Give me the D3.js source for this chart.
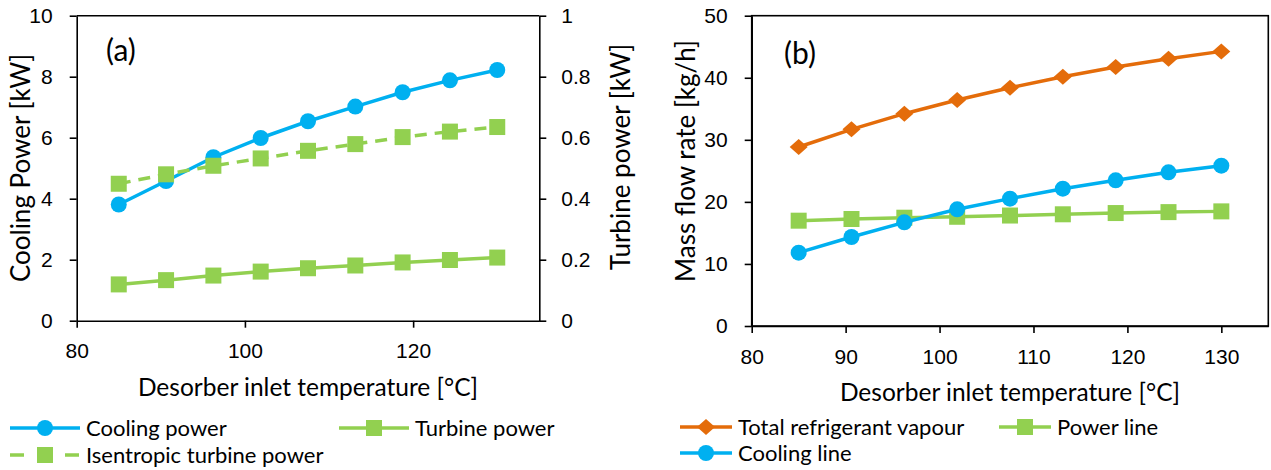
<!DOCTYPE html>
<html>
<head>
<meta charset="utf-8">
<script src="https://cdn.jsdelivr.net/npm/d3@7"></script>
<style>
  body { margin: 0; background: #fff; }
  svg { font-family: Lato, "Open Sans", sans-serif; }
  .tick text { font-size: 21px; fill: #000; }
  .axis-title { font-size: 24.5px; fill: #000; }
  .y-title { font-size: 26px; fill: #000; }
  .legend text { font-size: 22px; fill: #000; }
</style>
</head>
<body>
<svg id="chart" width="1271" height="470"></svg>
<script>
// desorber inlet temperatures (same for both panels)
const temps = [85, 90.625, 96.25, 101.875, 107.5, 113.125, 118.75, 124.375, 130];

// panel (a)
const coolingPower = [3.81, 4.58, 5.36, 5.99, 6.54, 7.02, 7.49, 7.88, 8.22];        // kW, left axis
const turbinePower = [0.119, 0.133, 0.148, 0.161, 0.172, 0.181, 0.191, 0.199, 0.207]; // kW, right axis
const isentropicPower = [0.449, 0.48, 0.508, 0.532, 0.557, 0.579, 0.602, 0.62, 0.635]; // kW, right axis

// panel (b)
const totalVapour = [28.84, 31.69, 34.21, 36.41, 38.4, 40.17, 41.73, 43.07, 44.25];
const powerLine = [16.97, 17.24, 17.45, 17.6, 17.8, 18.0, 18.2, 18.35, 18.47];
const coolingLine = [11.82, 14.34, 16.7, 18.8, 20.52, 22.13, 23.47, 24.76, 25.83];

// ticks
const aXTicks = [80, 100, 120];
const aLeftTicks = [0, 2, 4, 6, 8, 10];
const aRightTicks = [0, 0.2, 0.4, 0.6, 0.8, 1];
const bXTicks = [80, 90, 100, 110, 120, 130];
const bYTicks = [0, 10, 20, 30, 40, 50];

const BLUE = '#00B0F0', GREEN = '#92D050', ORANGE = '#E46C0A';

const svg = d3.select('#chart');

function styleAxis(g) {
  g.select('.domain').attr('stroke', '#000').attr('stroke-width', 1.6);
  g.selectAll('.tick line').attr('stroke', '#000').attr('stroke-width', 1.6);
  g.selectAll('.tick text').attr('font-family', null).attr('font-size', null);
}

// marker drawing
function drawMarker(g, shape, cx, cy, color) {
  if (shape === 'circle') {
    g.append('circle').attr('cx', cx).attr('cy', cy).attr('r', 8).attr('fill', color);
  } else if (shape === 'square') {
    g.append('rect').attr('x', cx - 8).attr('y', cy - 8).attr('width', 16).attr('height', 16).attr('fill', color);
  } else {
    g.append('path').attr('d', `M${cx},${cy - 8}L${cx + 9},${cy}L${cx},${cy + 8}L${cx - 9},${cy}Z`).attr('fill', color);
  }
}

function addSeries(g, xScale, yScale, values, color, shape, dash) {
  const pts = temps.map((t, i) => [xScale(t), yScale(values[i])]);
  g.append('path')
    .attr('d', d3.line()(pts))
    .attr('fill', 'none')
    .attr('stroke', color)
    .attr('stroke-width', 3.5)
    .attr('stroke-dasharray', dash || null);
  pts.forEach(p => drawMarker(g, shape, p[0], p[1], color));
}

// ---------- panel (a) ----------
const A = { left: 76.7, right: 539.3, top: 15.7, bottom: 320.7 };
const ax = d3.scaleLinear().domain([80, 135]).range([A.left, A.right]);
const ayL = d3.scaleLinear().domain([0, 10]).range([A.bottom, A.top]);
const ayR = d3.scaleLinear().domain([0, 1]).range([A.bottom, A.top]);

const gA = svg.append('g');
gA.append('line').attr('x1', A.left).attr('x2', A.right).attr('y1', A.top).attr('y2', A.top)
  .attr('stroke', '#000').attr('stroke-width', 1.6);

gA.append('g').attr('transform', `translate(0,${A.bottom})`)
  .call(d3.axisBottom(ax).tickValues(aXTicks).tickSize(7).tickPadding(15).tickSizeOuter(0))
  .call(styleAxis);
gA.append('g').attr('transform', `translate(${A.left},0)`)
  .call(d3.axisLeft(ayL).tickValues(aLeftTicks).tickSize(7).tickPadding(17).tickSizeOuter(0))
  .call(styleAxis);
gA.append('g').attr('transform', `translate(${A.right},0)`)
  .call(d3.axisRight(ayR).tickValues(aRightTicks).tickFormat(d3.format('~g')).tickSize(7).tickPadding(15).tickSizeOuter(0))
  .call(styleAxis);

addSeries(gA, ax, ayL, coolingPower, BLUE, 'circle');
addSeries(gA, ax, ayR, turbinePower, GREEN, 'square');
addSeries(gA, ax, ayR, isentropicPower, GREEN, 'square', '12,8');

gA.append('text').attr('x', 106).attr('y', 61).style('font-size', '30px').text('(a)');
gA.append('text').attr('class', 'axis-title').attr('x', (A.left + A.right) / 2).attr('y', 396)
  .attr('text-anchor', 'middle').text('Desorber inlet temperature [°C]');
gA.append('text').attr('class', 'y-title').attr('text-anchor', 'middle')
  .attr('transform', 'translate(21,168) rotate(-90)').attr('dy', '0.35em').text('Cooling Power [kW]');
gA.append('text').attr('class', 'y-title').attr('text-anchor', 'middle')
  .attr('transform', 'translate(621,157) rotate(-90)').attr('dy', '0.35em').text('Turbine power [kW]');

// ---------- panel (b) ----------
const B = { left: 751.7, right: 1268.3, top: 15.7, bottom: 326 };
const bx = d3.scaleLinear().domain([80, 135]).range([B.left, B.right]);
const by = d3.scaleLinear().domain([0, 50]).range([B.bottom, B.top]);

const gB = svg.append('g');
gB.append('rect').attr('x', B.left).attr('y', B.top)
  .attr('width', B.right - B.left).attr('height', B.bottom - B.top)
  .attr('fill', 'none').attr('stroke', '#000').attr('stroke-width', 1.6);

gB.append('g').attr('transform', `translate(0,${B.bottom})`)
  .call(d3.axisBottom(bx).tickValues(bXTicks).tickSize(7).tickPadding(16).tickSizeOuter(0))
  .call(styleAxis);
gB.append('g').attr('transform', `translate(${B.left},0)`)
  .call(d3.axisLeft(by).tickValues(bYTicks).tickSize(7).tickPadding(17).tickSizeOuter(0))
  .call(styleAxis);

addSeries(gB, bx, by, totalVapour, ORANGE, 'diamond');
addSeries(gB, bx, by, powerLine, GREEN, 'square');
addSeries(gB, bx, by, coolingLine, BLUE, 'circle');

gB.append('text').attr('x', 784).attr('y', 64).style('font-size', '30px').text('(b)');
gB.append('text').attr('class', 'axis-title').attr('x', (B.left + B.right) / 2).attr('y', 401)
  .attr('text-anchor', 'middle').text('Desorber inlet temperature [°C]');
gB.append('text').attr('class', 'y-title').attr('text-anchor', 'middle')
  .attr('transform', 'translate(686,161) rotate(-90)').attr('dy', '0.35em').text('Mass flow rate [kg/h]');

// ---------- legends ----------
const legendA = [
  { label: 'Cooling power', color: BLUE, shape: 'circle', x: 10, y: 428 },
  { label: 'Turbine power', color: GREEN, shape: 'square', x: 339, y: 428 },
  { label: 'Isentropic turbine power', color: GREEN, shape: 'square', x: 10, y: 455, dash: '14,41' }
];
const legendB = [
  { label: 'Total refrigerant vapour', color: ORANGE, shape: 'diamond', x: 680, y: 427, w: 52 },
  { label: 'Power line', color: GREEN, shape: 'square', x: 999, y: 427, w: 52 },
  { label: 'Cooling line', color: BLUE, shape: 'circle', x: 680, y: 453, w: 52 }
];

const leg = svg.append('g').attr('class', 'legend');
legendA.concat(legendB).forEach(d => {
  const w = d.w || 70;
  leg.append('line').attr('x1', d.x).attr('x2', d.x + w).attr('y1', d.y).attr('y2', d.y)
    .attr('stroke', d.color).attr('stroke-width', 3.5).attr('stroke-dasharray', d.dash || null);
  drawMarker(leg, d.shape, d.x + w / 2, d.y, d.color);
  leg.append('text').attr('x', d.x + w + 6).attr('y', d.y).attr('dy', '0.35em').text(d.label);
});
</script>
</body>
</html>
